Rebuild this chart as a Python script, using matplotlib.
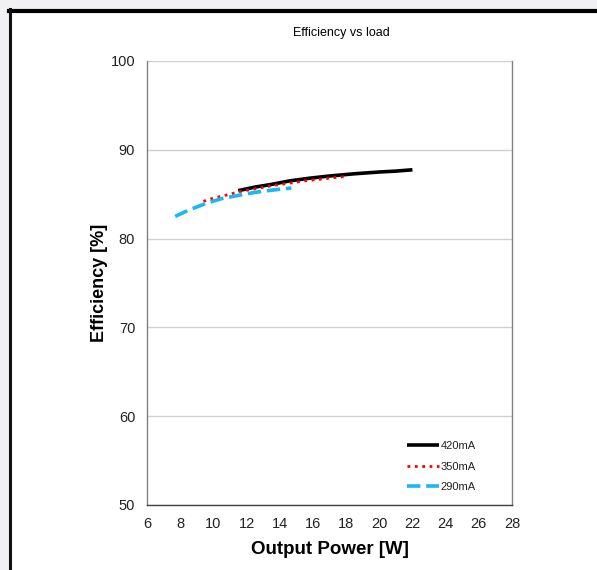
import matplotlib
matplotlib.use("Agg")
import matplotlib.pyplot as plt
from matplotlib.patches import Rectangle
from matplotlib.lines import Line2D

plt.rcParams['font.family'] = ['Liberation Sans', 'DejaVu Sans']

p420 = [11.5, 12.5, 13.5, 14.6, 15.8, 17.0, 18.5, 20.0, 21.0, 22.0]
e420 = [85.4, 85.8, 86.1, 86.5, 86.8, 87.05, 87.3, 87.5, 87.6, 87.75]
p350 = [9.4, 10.0, 11.0, 11.6, 12.5, 13.5, 14.6, 15.5, 16.5, 17.2, 18.0]
e350 = [84.2, 84.55, 85.0, 85.3, 85.6, 85.95, 86.25, 86.5, 86.7, 86.85, 87.0]
p290 = [7.7, 8.5, 9.6, 10.5, 11.6, 12.5, 13.5, 14.7]
e290 = [82.5, 83.2, 84.0, 84.5, 84.9, 85.2, 85.45, 85.7]
series = [("420mA", p420, e420, "black", "-", 2.6),
          ("350mA", p350, e350, "#ff0000", ":", 2.0),
          ("290mA", p290, e290, "#1ab8f0", "--", 2.6)]
xticks = list(range(6, 29, 2))
yticks = [50, 60, 70, 80, 90, 100]

fig = plt.figure(figsize=(5.97, 5.70), dpi=100)
fig.patch.set_facecolor("#f1f1f3")
fig.patches.append(Rectangle((9/597, 0), 1, 1 - 9/570, transform=fig.transFigure,
                             facecolor="white", edgecolor="none", zorder=-10))
fig.lines.append(Line2D([9/597, 1], [1 - 10.5/570, 1 - 10.5/570], transform=fig.transFigure,
                        color="black", lw=3, zorder=-5))
fig.lines.append(Line2D([10/597, 10/597], [0, 1 - 9/570], transform=fig.transFigure,
                        color="#111111", lw=2.2, zorder=-5))

ax = fig.add_axes([147/597, 65/570, 365/597, 444/570])
ax.set_facecolor("none")
for lbl, x, y, c, ls, lw in series:
    ax.plot(x, y, color=c, linestyle=ls, lw=lw, label=lbl, solid_capstyle="butt")

ax.set_xlim(6, 28)
ax.set_ylim(50, 100)
ax.set_xticks(xticks)
ax.set_yticks(yticks)
ax.yaxis.grid(True, color="#d0d0d0", lw=1)
ax.set_axisbelow(True)
ax.tick_params(length=0, labelsize=10.5, colors="#222222")
ax.tick_params(axis='x', pad=9)
ax.tick_params(axis='y', pad=8.5)
for s in ax.spines.values():
    s.set_color("#808080")
    s.set_linewidth(1)
ax.spines['bottom'].set_color("#404040")
ax.spines['top'].set_visible(False)

ax.set_xlabel("Output Power [W]", fontsize=13.5, fontweight="bold", labelpad=7)
ax.set_ylabel("Efficiency [%]", fontsize=13, fontweight="bold", labelpad=2)
fig.text(341/597, 1 - 33/570, "Efficiency vs load", ha="center", va="center", fontsize=9)

leg = ax.legend(loc="lower left", bbox_to_anchor=(0.712, 0.029), frameon=False,
                borderaxespad=0, borderpad=0,
                fontsize=8, handlelength=2.9, handletextpad=0.15, labelspacing=0.95)
for t in leg.get_texts():
    t.set_color("#222222")

fig.savefig("out.png", dpi=100)
